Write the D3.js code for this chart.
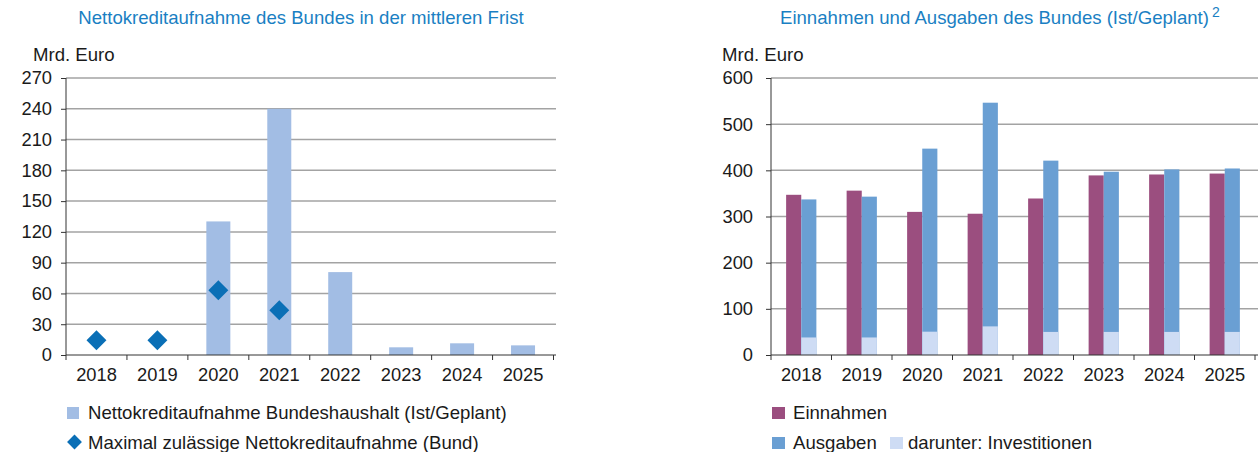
<!DOCTYPE html>
<html>
<head>
<meta charset="utf-8">
<script src="https://cdn.jsdelivr.net/npm/d3@7"></script>
<style>
  body { margin: 0; background: #fff; }
  svg { display: block; font-family: "Liberation Sans", Arial, Helvetica, sans-serif; }
  .grid line { stroke: #a3a3a3; stroke-width: 1.5; }
  .axis path, .axis line { stroke: #333; }
  .axis text { fill: #1a1a1a; font-size: 18.3px; }
  .leg { fill: #1a1a1a; font-size: 18.6px; }
</style>
</head>
<body>
<script>
// data
var years = ["2018", "2019", "2020", "2021", "2022", "2023", "2024", "2025"];
var nettoKredit = [0, 0, 130.2, 240, 80.8, 7.5, 11.4, 9.4];
var maxZulaessig = [14.3, 14.3, 63, 43.5, null, null, null, null];
var einnahmen = [347, 356, 310, 306, 339, 389, 391, 393];
var ausgaben = [337, 343, 447, 546.5, 421, 397, 402, 404];
var investitionen = [38, 38, 50.5, 62, 50, 50, 50, 50];
var leftTicks = [0, 30, 60, 90, 120, 150, 180, 210, 240, 270];
var rightTicks = [0, 100, 200, 300, 400, 500, 600];

var titleColor = "#1a7fc3";
var cBar = "#a2bde4";
var cDiamond = "#0a6fb6";
var cEin = "#9b4e7f";
var cAus = "#6a9fd3";
var cInv = "#cedcf4";

var svg = d3.select("body").append("svg")
  .attr("width", 1258)
  .attr("height", 452);

var top0 = 78, bottom0 = 355;

// ---------- left chart ----------
var xL = d3.scaleBand().domain(years).range([66, 553.5]);
var yL = d3.scaleLinear().domain([0, 270]).range([bottom0, top0]);

svg.append("text")
  .attr("x", 301).attr("y", 24)
  .attr("text-anchor", "middle")
  .attr("fill", titleColor)
  .style("font-size", "18.6px")
  .text("Nettokreditaufnahme des Bundes in der mittleren Frist");

svg.append("text")
  .attr("x", 33).attr("y", 61)
  .attr("class", "leg")
  .text("Mrd. Euro");

svg.append("g").attr("class", "grid")
  .selectAll("line").data(leftTicks.slice(1)).enter().append("line")
  .attr("x1", 66).attr("x2", 556)
  .attr("y1", function(d) { return yL(d); })
  .attr("y2", function(d) { return yL(d); });

svg.append("g")
  .selectAll("rect").data(years).enter().append("rect")
  .attr("x", function(d) { return xL(d) + xL.bandwidth() / 2 - 12; })
  .attr("width", 24)
  .attr("y", function(d, i) { return yL(nettoKredit[i]); })
  .attr("height", function(d, i) { return bottom0 - yL(nettoKredit[i]); })
  .attr("fill", cBar);

svg.append("g")
  .selectAll("path").data(years.filter(function(d, i) { return maxZulaessig[i] != null; }))
  .enter().append("path")
  .attr("d", d3.symbol().type(d3.symbolSquare).size(200))
  .attr("transform", function(d) {
    var i = years.indexOf(d);
    return "translate(" + (xL(d) + xL.bandwidth() / 2) + "," + yL(maxZulaessig[i]) + ") rotate(45)";
  })
  .attr("fill", cDiamond);

var axLeftL = svg.append("g").attr("class", "axis")
  .attr("transform", "translate(66,0)")
  .call(d3.axisLeft(yL).tickValues(leftTicks).tickSize(5).tickSizeOuter(0).tickPadding(9));
axLeftL.select(".domain").attr("d", "M0," + top0 + "V" + bottom0);

var axBotL = svg.append("g").attr("class", "axis")
  .attr("transform", "translate(0," + bottom0 + ")")
  .call(d3.axisBottom(xL).tickSize(0).tickPadding(13));
axBotL.select(".domain").attr("d", "M66,0H556");
axBotL.selectAll(".sep").data(years.concat(["end"])).enter().append("line")
  .attr("class", "sep")
  .attr("x1", function(d) { return d == "end" ? 553.5 : xL(d); })
  .attr("x2", function(d) { return d == "end" ? 553.5 : xL(d); })
  .attr("y1", 0).attr("y2", 5);

// legend left
svg.append("rect").attr("x", 67).attr("y", 407).attr("width", 12).attr("height", 12).attr("fill", cBar);
svg.append("text").attr("x", 88).attr("y", 419).attr("class", "leg")
  .text("Nettokreditaufnahme Bundeshaushalt (Ist/Geplant)");
svg.append("path")
  .attr("d", d3.symbol().type(d3.symbolSquare).size(110))
  .attr("transform", "translate(74.5,442) rotate(45)")
  .attr("fill", cDiamond);
svg.append("text").attr("x", 88).attr("y", 449).attr("class", "leg")
  .text("Maximal zulässige Nettokreditaufnahme (Bund)");

// ---------- right chart ----------
var xR = d3.scaleBand().domain(years).range([771, 1255]);
var xSub = d3.scaleBand().domain(["ein", "aus"]).range([0, xR.bandwidth()]).paddingInner(0).paddingOuter(1);
var yR = d3.scaleLinear().domain([0, 600]).range([bottom0, top0]);

var title2 = svg.append("text")
  .attr("x", 780).attr("y", 24)
  .attr("fill", titleColor)
  .style("font-size", "18.6px");
title2.append("tspan").text("Einnahmen und Ausgaben des Bundes (Ist/Geplant)");
title2.append("tspan").attr("dx", 3).attr("dy", -7).style("font-size", "14px").text("2");

svg.append("text")
  .attr("x", 722).attr("y", 61)
  .attr("class", "leg")
  .text("Mrd. Euro");

svg.append("g").attr("class", "grid")
  .selectAll("line").data(rightTicks.slice(1)).enter().append("line")
  .attr("x1", 771).attr("x2", 1258)
  .attr("y1", function(d) { return yR(d); })
  .attr("y2", function(d) { return yR(d); });

var groups = svg.append("g").selectAll("g").data(years).enter().append("g")
  .attr("transform", function(d) { return "translate(" + xR(d) + ",0)"; });

groups.append("rect")
  .attr("x", xSub("ein")).attr("width", xSub.bandwidth())
  .attr("y", function(d, i) { return yR(einnahmen[i]); })
  .attr("height", function(d, i) { return bottom0 - yR(einnahmen[i]); })
  .attr("fill", cEin);
groups.append("rect")
  .attr("x", xSub("aus")).attr("width", xSub.bandwidth())
  .attr("y", function(d, i) { return yR(ausgaben[i]); })
  .attr("height", function(d, i) { return bottom0 - yR(ausgaben[i]); })
  .attr("fill", cAus);
groups.append("rect")
  .attr("x", xSub("aus")).attr("width", xSub.bandwidth())
  .attr("y", function(d, i) { return yR(investitionen[i]); })
  .attr("height", function(d, i) { return bottom0 - yR(investitionen[i]); })
  .attr("fill", cInv);

var axLeftR = svg.append("g").attr("class", "axis")
  .attr("transform", "translate(771,0)")
  .call(d3.axisLeft(yR).tickValues(rightTicks).tickSize(5).tickSizeOuter(0).tickPadding(13));
axLeftR.select(".domain").attr("d", "M0," + top0 + "V" + bottom0);

var axBotR = svg.append("g").attr("class", "axis")
  .attr("transform", "translate(0," + bottom0 + ")")
  .call(d3.axisBottom(xR).tickSize(0).tickPadding(13));
axBotR.select(".domain").attr("d", "M771,0H1258");
axBotR.selectAll(".sep").data(years.concat(["end"])).enter().append("line")
  .attr("class", "sep")
  .attr("x1", function(d) { return d == "end" ? 1255 : xR(d); })
  .attr("x2", function(d) { return d == "end" ? 1255 : xR(d); })
  .attr("y1", 0).attr("y2", 5);

// legend right
svg.append("rect").attr("x", 772).attr("y", 407).attr("width", 13).attr("height", 12).attr("fill", cEin);
svg.append("text").attr("x", 793).attr("y", 419).attr("class", "leg").text("Einnahmen");
svg.append("rect").attr("x", 772).attr("y", 437).attr("width", 13).attr("height", 12).attr("fill", cAus);
svg.append("text").attr("x", 793).attr("y", 449).attr("class", "leg").text("Ausgaben");
svg.append("rect").attr("x", 890).attr("y", 437).attr("width", 13).attr("height", 12).attr("fill", cInv);
svg.append("text").attr("x", 908).attr("y", 449).attr("class", "leg").text("darunter: Investitionen");
</script>
</body>
</html>
